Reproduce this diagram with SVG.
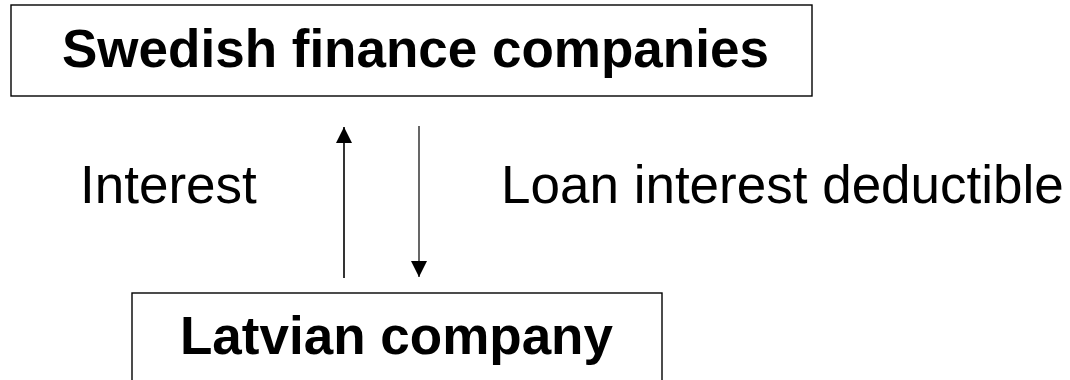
<svg xmlns="http://www.w3.org/2000/svg" width="1070" height="380" viewBox="0 0 1070 380">
  <style>
    .box { fill: #ffffff; stroke: #000000; stroke-width: 1.4; }
    .title { font-family: "Liberation Sans", Arial, sans-serif; font-weight: bold; font-size: 53px; fill: #000000; }
    .label { font-family: "Liberation Sans", Arial, sans-serif; font-size: 53px; fill: #000000; }
    .link { stroke: #000000; fill: none; }
  </style>
  <defs>
    <marker id="head" viewBox="0 0 16 16" refX="16" refY="8" markerWidth="16" markerHeight="16" markerUnits="userSpaceOnUse" orient="auto">
      <path d="M0,0 L16,8 L0,16 Z" fill="#000000"/>
    </marker>
  </defs>
  <rect width="1070" height="380" fill="#ffffff"/>

  <g id="swedish-finance">
    <rect class="box" x="11" y="5" width="801" height="91"/>
    <text class="title" x="62" y="67">Swedish finance companies</text>
  </g>

  <g id="latvian-company">
    <rect class="box" x="132" y="293" width="530" height="100"/>
    <text class="title" x="180" y="354">Latvian company</text>
  </g>

  <g id="connectors">
    <line class="link" x1="344" y1="278" x2="344" y2="127" stroke-width="1.6" marker-end="url(#head)"/>
    <line class="link" x1="419" y1="126" x2="419" y2="277" stroke-width="1.2" marker-end="url(#head)"/>
    <text class="label" x="80" y="203">Interest</text>
    <text class="label" x="501" y="203">Loan interest deductible</text>
  </g>
</svg>
